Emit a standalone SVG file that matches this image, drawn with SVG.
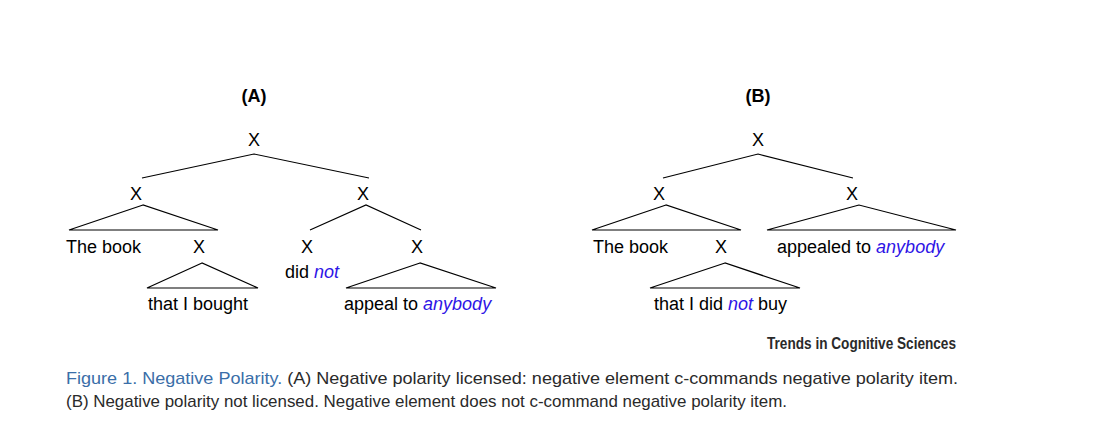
<svg xmlns="http://www.w3.org/2000/svg" width="1119" height="423" viewBox="0 0 1119 423">
<style>
.t{font-family:"Liberation Sans",Arial,sans-serif;font-size:18px;fill:#000}
.c{text-anchor:middle}
.b{font-weight:bold}
.n{fill:#2e14e6;font-style:italic}
.e{fill:none;stroke:#000;stroke-width:1.2}
.cap{font-family:"Liberation Sans",Arial,sans-serif;font-size:17px;fill:#2a2a2a}
.fig{fill:#3a6ea8}
</style>
<rect width="1119" height="423" fill="#fff"/>
<g id="labelA"><text class="t c b" x="254" y="102" font-size="17">(A)</text></g>
<g id="labelB"><text class="t c b" x="758" y="102" font-size="17">(B)</text></g>
<g id="connectors">
<polyline class="e" points="142,178 254,154 369,178"/>
<polygon class="e" points="143,205 69,230 218,230"/>
<polygon class="e" points="202,263 147,288 258,288"/>
<polyline class="e" points="310,230 366,205 421,230"/>
<polygon class="e" points="420,263 346,288 496,288"/>
<polyline class="e" points="663,178 758,154 853,178"/>
<polygon class="e" points="666,205 592,230 741,230"/>
<polygon class="e" points="725,263 650,288 800,288"/>
<polygon class="e" points="859,205 767,230 956,230"/>
</g>
<g id="A_root"><text class="t c" x="254" y="146">X</text></g>
<g id="A_L"><text class="t c" x="136" y="200">X</text></g>
<g id="A_R"><text class="t c" x="363" y="200">X</text></g>
<g id="A_thebook"><text class="t" x="66" y="253">The book</text></g>
<g id="A_LX"><text class="t c" x="199" y="253">X</text></g>
<g id="A_bought"><text class="t" x="148" y="310">that I bought</text></g>
<g id="A_RL"><text class="t c" x="307" y="253">X</text><text class="t" x="285" y="278">did <tspan class="n">not</tspan></text></g>
<g id="A_RR"><text class="t c" x="417" y="253">X</text></g>
<g id="A_appeal"><text class="t" x="344" y="310">appeal to <tspan class="n">anybody</tspan></text></g>
<g id="B_root"><text class="t c" x="758" y="146">X</text></g>
<g id="B_L"><text class="t c" x="659" y="200">X</text></g>
<g id="B_R"><text class="t c" x="852" y="200">X</text></g>
<g id="B_thebook"><text class="t" x="593" y="253">The book</text></g>
<g id="B_LX"><text class="t c" x="721" y="253">X</text></g>
<g id="B_buy"><text class="t" x="654" y="310">that I did <tspan class="n">not</tspan> buy</text></g>
<g id="B_appealed"><text class="t" x="777" y="253">appealed to <tspan class="n">anybody</tspan></text></g>
<g id="caption">
<text class="cap" x="956" y="349" text-anchor="end" font-weight="bold" font-size="13" fill="#111" textLength="189" lengthAdjust="spacingAndGlyphs">Trends in Cognitive Sciences</text>
<text class="cap" x="66" y="384" textLength="892" lengthAdjust="spacingAndGlyphs"><tspan class="fig">Figure 1. Negative Polarity.</tspan> (A) Negative polarity licensed: negative element c-commands negative polarity item.</text>
<text class="cap" x="66" y="407" textLength="721" lengthAdjust="spacingAndGlyphs">(B) Negative polarity not licensed. Negative element does not c-command negative polarity item.</text>
</g>
</svg>
